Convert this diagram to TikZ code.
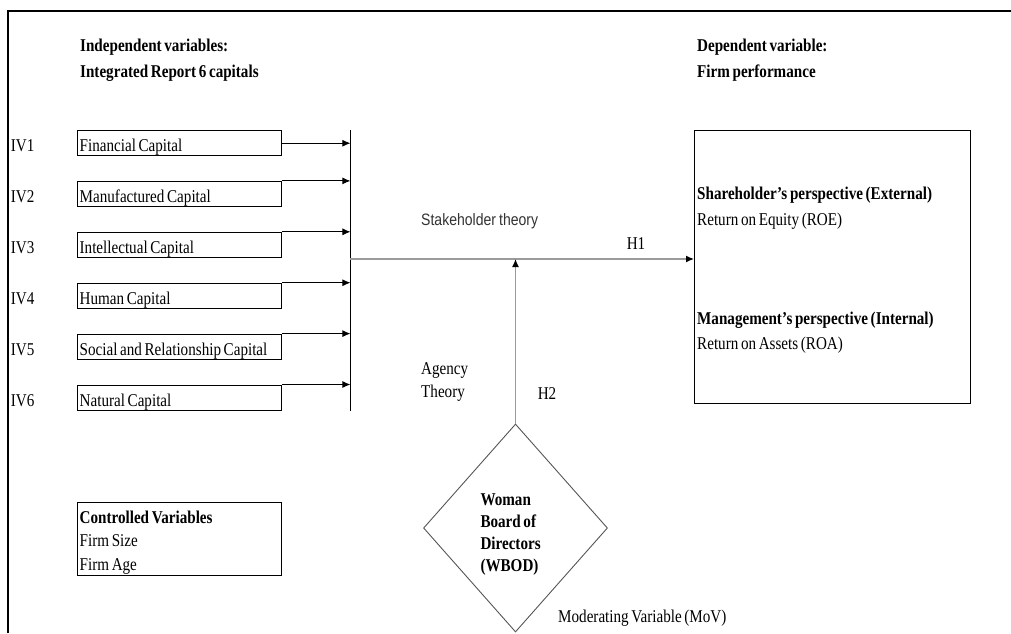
\documentclass[tikz,border=0pt]{standalone}
\usepackage{fontspec}
\setmainfont{Liberation Serif}[FakeStretch=0.84,WordSpace=0.7]
\newfontfamily\stkfont{Liberation Sans}[FakeStretch=0.85,WordSpace=0.8]
\usetikzlibrary{arrows.meta,positioning,shapes.geometric}
\definecolor{LineGrey}{HTML}{9A9A9A}
\definecolor{EdgeGrey}{HTML}{555555}

\begin{document}
\begin{tikzpicture}[
  x=1pt, y=-1pt,
  node distance=24.5pt,
  every node/.style={font=\fontsize{18}{22}\selectfont},
  capbox/.style={draw,line width=1.4pt,minimum width=204pt,text width=200pt,align=flush left,
    inner xsep=2pt,inner ysep=0pt,text height=21pt,text depth=4pt},
  tag/.style={text width=26pt,align=flush left,inner sep=0pt,text height=21pt,text depth=4pt},
  txt/.style={align=flush left,inner sep=0pt},
  head/.style={txt,font=\bfseries\fontsize{18}{26}\selectfont},
  arrow/.style={-{Latex[length=8pt,width=7pt]},line width=0.9pt},
  greyarrow/.style={-{Latex[length=8pt,width=7pt,color=black]},draw=LineGrey,line width=1.3pt}
]
  \useasboundingbox (0,0) rectangle (1011,633);
  \draw[line width=1.6pt] (8,633) -- (8,11) -- (1011,11);

  % headings
  \node[head,anchor=north west] (ivhead) at (80,39) {Independent variables:\\Integrated Report 6 capitals};
  \node[head,anchor=north west] (dvhead) at (697,39) {Dependent variable:\\Firm performance};

  % the six capitals
  \node[capbox,anchor=north west] (iv1) at (77,130) {Financial Capital};
  \node[capbox,below=of iv1] (iv2) {Manufactured Capital};
  \node[capbox,below=of iv2] (iv3) {Intellectual Capital};
  \node[capbox,below=of iv3] (iv4) {Human Capital};
  \node[capbox,below=of iv4] (iv5) {Social and Relationship Capital};
  \node[capbox,below=of iv5] (iv6) {Natural Capital};

  \node[tag,left=40pt of iv1] (t1) {IV1};
  \node[tag,left=40pt of iv2] (t2) {IV2};
  \node[tag,left=40pt of iv3] (t3) {IV3};
  \node[tag,left=40pt of iv4] (t4) {IV4};
  \node[tag,left=40pt of iv5] (t5) {IV5};
  \node[tag,left=40pt of iv6] (t6) {IV6};

  \coordinate[right=68pt of iv1.north east] (bartop);
  \coordinate[right=68pt of iv6.south east] (barbot);
  \draw[line width=1.4pt] (bartop) -- (barbot);

  \draw[arrow] (iv1.east) -- (iv1.east -| bartop);
  \draw[arrow] (iv2.north east) -- (iv2.north east -| bartop);
  \draw[arrow] (iv3.north east) -- (iv3.north east -| bartop);
  \draw[arrow] (iv4.north east) -- (iv4.north east -| bartop);
  \draw[arrow] (iv5.north east) -- (iv5.north east -| bartop);
  \draw[arrow] (iv6.north east) -- (iv6.north east -| bartop);

  % firm performance
  \node[draw,line width=1.4pt,minimum width=276pt,minimum height=273pt,anchor=north west] (perf) at (694,130) {};
  \node[txt,anchor=north west,font=\fontsize{18}{26}\selectfont] (share) at ([xshift=3pt,yshift=-57pt]perf.north west)
    {\textbf{Shareholder's perspective (External)}\\Return on Equity (ROE)};
  \node[txt,anchor=north west,font=\fontsize{18}{25}\selectfont] (mgmt) at ([xshift=3pt,yshift=-182pt]perf.north west)
    {\textbf{Management's perspective (Internal)}\\Return on Assets (ROA)};

  \coordinate (hub) at (bartop |- 0,259);
  \draw[greyarrow] (hub) -- (hub -| perf.west);

  % moderator
  \node[diamond,draw=EdgeGrey,line width=0.9pt,minimum width=184pt,minimum height=208pt,inner sep=0pt,
    text width=70pt,text height=25pt,align=flush left,font=\bfseries\fontsize{18}{22}\selectfont] (wbod) at (515.5,528)
    {Woman\\Board of\\Directors\\(WBOD)};
  \draw[greyarrow] (wbod.north) -- (wbod.north |- hub);

  \node[txt,anchor=west,font=\stkfont\fontsize{16.5}{20}\selectfont,text=black!80] (stk) at (421,221) {Stakeholder theory};
  \node[txt] (h1) at (636,244) {H1};
  \node[txt,anchor=north west,font=\fontsize{18}{23}\selectfont] (agency) at (421,362) {Agency\\Theory};
  \node[txt] (h2) at (547,394) {H2};
  \node[txt,anchor=west] (mov) at (558,618) {Moderating Variable (MoV)};

  % controls
  \node[draw,line width=1.4pt,anchor=north west,minimum width=204pt,minimum height=73pt,text width=200pt,
    align=flush left,inner xsep=2pt,inner ysep=0pt,text height=19pt,font=\fontsize{18}{23.5}\selectfont] (ctrl) at (77,502)
    {\textbf{Controlled Variables}\\Firm Size\\Firm Age};
\end{tikzpicture}
\end{document}
